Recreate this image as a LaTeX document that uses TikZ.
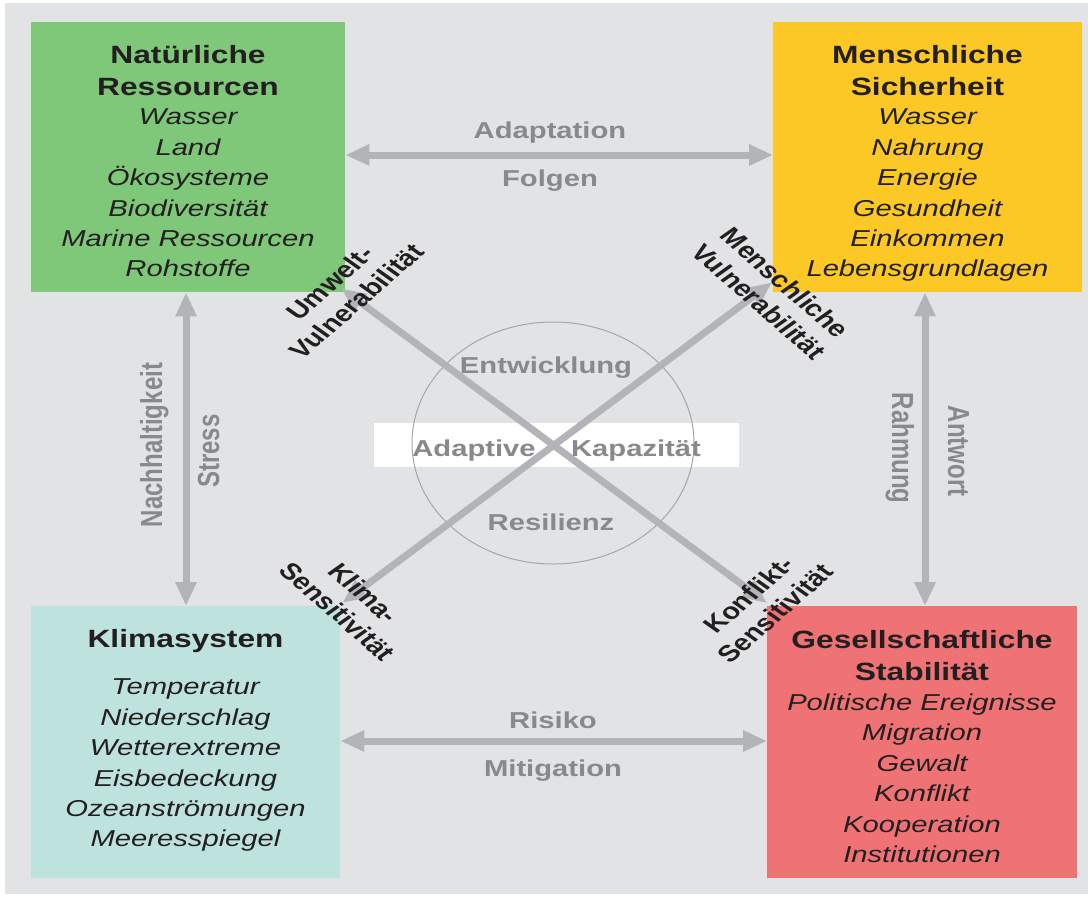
\documentclass[tikz,border=0pt]{standalone}
\usepackage{fontspec}
\setmainfont{Liberation Sans}[FakeStretch=1.27]
\newfontfamily\rotfont{Liberation Sans}
\usetikzlibrary{arrows.meta,shapes.geometric}
\definecolor{bg}{HTML}{E2E3E5}
\definecolor{cgreen}{HTML}{7FC87A}
\definecolor{cyellow}{HTML}{FBC825}
\definecolor{cteal}{HTML}{BEE3DF}
\definecolor{cred}{HTML}{EF7275}
\definecolor{carrow}{HTML}{B3B4B7}
\definecolor{clab}{HTML}{88898C}
\definecolor{cell}{HTML}{A5A6A8}
\definecolor{ctext}{HTML}{231F20}
\begin{document}
\begin{tikzpicture}[x=1pt,y=1pt,
  box/.style={draw=none, inner sep=0pt, anchor=north west},
  boxtitle/.style={align=center, inner sep=0pt, text=ctext, font=\fontsize{25}{32}\selectfont\bfseries},
  boxitems/.style={align=center, inner sep=0pt, text=ctext, font=\fontsize{23}{30.4}\selectfont\itshape},
  glab/.style={inner sep=0pt, anchor=base, text=clab, font=\fontsize{23}{27}\selectfont\bfseries},
  dlab/.style={align=center, inner sep=0pt, text=ctext, transform shape, font=\rotfont\fontsize{23}{28}\selectfont\bfseries},
  vlab/.style={inner sep=0pt, anchor=base, text=clab, transform shape, font=\rotfont\fontsize{24}{28}\selectfont\bfseries},
  arr/.style={draw=carrow, line width=7pt, >={Triangle[length=24pt,width=20pt]}, <->}
]
\useasboundingbox (0,0) rectangle (1091,-897);
\fill[white] (0,0) rectangle (1091,-897);
\fill[bg] (5,-3) rectangle (1088,-894);

% boxes
\node[box, fill=cgreen, minimum width=314pt, minimum height=270pt] (nat) at (31,-22) {};
\node[box, fill=cyellow, minimum width=309pt, minimum height=270pt] (mens) at (773,-22) {};
\node[box, fill=cteal, minimum width=309pt, minimum height=272pt] (klima) at (31,-606) {};
\node[box, fill=cred, minimum width=310pt, minimum height=272pt] (ges) at (767,-606) {};

% centre
\node[fill=white, inner sep=0pt, minimum width=365pt, minimum height=44pt] (band) at (556.5,-445) {};
\node[draw=cell, line width=1pt, ellipse, inner sep=0pt, minimum width=282pt, minimum height=242pt] (ell) at (553,-443) {};

% connectors
\coordinate (ty) at (0,-155);
\coordinate (by) at (0,-741);
\coordinate (lx) at (186,0);
\coordinate (rx) at (925,0);
\draw[arr] (nat.east |- ty) -- (mens.west |- ty);
\draw[arr] (klima.east |- by) -- (ges.west |- by);
\draw[arr] (nat.south -| lx) -- (klima.north -| lx);
\draw[arr] (mens.south -| rx) -- (ges.north -| rx);
\draw[arr] ([shift={(-4pt,4pt)}]nat.south east) -- ([shift={(0pt,3pt)}]ges.north west);
\draw[arr] ([shift={(2pt,3pt)}]klima.north east) -- ([shift={(-1pt,10pt)}]mens.south west);

% box texts
\node[boxtitle] (natT) at (188,-71) {Natürliche\\Ressourcen};
\node[boxitems] (natI) at (188,-193) {Wasser\\Land\\Ökosysteme\\Biodiversität\\Marine Ressourcen\\Rohstoffe};
\node[boxtitle] (mensT) at (927.5,-71) {Menschliche\\Sicherheit};
\node[boxitems] (mensI) at (927.5,-195.4) {Wasser\\Nahrung\\Energie\\Gesundheit\\Einkommen\\Lebensgrundlagen};
\node[boxtitle] (klimaT) at (185.5,-641.5) {Klimasystem};
\node[boxitems] (klimaI) at (185.5,-765.4) {Temperatur\\Niederschlag\\Wetterextreme\\Eisbedeckung\\Ozeanströmungen\\Meeresspiegel};
\node[boxtitle] (gesT) at (922,-655.5) {Gesellschaftliche\\Stabilität};
\node[boxitems] (gesI) at (922,-778.3) {Politische Ereignisse\\Migration\\Gewalt\\Konflikt\\Kooperation\\Institutionen};

% grey labels
\node[glab] (adapt) at (550,-138) {Adaptation};
\node[glab] (folgen) at (550,-186) {Folgen};
\node[glab] (risiko) at (553,-728) {Risiko};
\node[glab] (mitig) at (553,-776) {Mitigation};
\node[glab] (entw) at (546,-373) {Entwicklung};
\node[glab] (resil) at (551,-530) {Resilienz};
\node[glab] (adaptive) at (474,-456) {Adaptive};
\node[glab] (kapaz) at (636,-456) {Kapazität};

% vertical labels
\begin{scope}[shift={(162,-445)}, xscale=1.27]
\node[vlab, rotate=90] (nachh) at (0,0) {Nachhaltigkeit};
\end{scope}
\begin{scope}[shift={(219,-451)}, xscale=1.27]
\node[vlab, rotate=90] (stress) at (0,0) {Stress};
\end{scope}
\begin{scope}[shift={(892,-448)}, xscale=1.27]
\node[vlab, rotate=-90] (rahm) at (0,0) {Rahmung};
\end{scope}
\begin{scope}[shift={(948,-451)}, xscale=1.27]
\node[vlab, rotate=-90] (antw) at (0,0) {Antwort};
\end{scope}

% diagonal labels
\begin{scope}[shift={(343,-292)}, xscale=1.27]
\node[dlab, rotate=48] (uvul) at (0,0) {Umwelt-\\Vulnerabilität};
\end{scope}
\begin{scope}[shift={(772,-292)}, xscale=1.27]
\node[dlab, rotate=-48] (mvul) at (0,0) {Menschliche\\Vulnerabilität};
\end{scope}
\begin{scope}[shift={(351,-602)}, xscale=1.27]
\node[dlab, rotate=-48] (ksens) at (0,0) {Klima-\\Sensitivität};
\end{scope}
\begin{scope}[shift={(762,-604)}, xscale=1.27]
\node[dlab, rotate=48] (kosens) at (0,0) {Konflikt-\\Sensitivität};
\end{scope}
\end{tikzpicture}
\end{document}
